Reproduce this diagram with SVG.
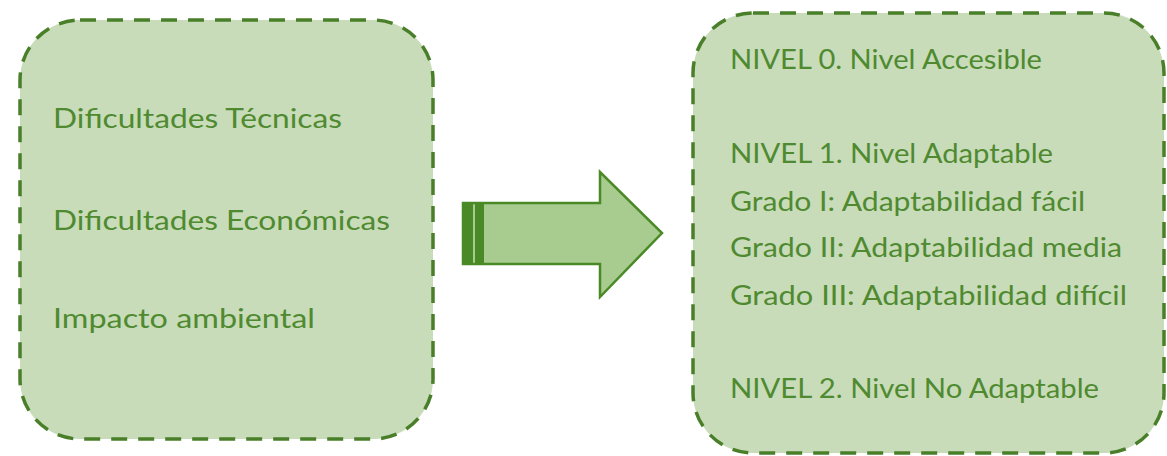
<svg xmlns="http://www.w3.org/2000/svg" width="1167" height="456" viewBox="0 0 1167 456">
<style>
.box{fill:#c8dcb9;stroke:#4a7f2a;stroke-width:3.5;stroke-dasharray:16 11}
.t{font-family:Lato,"Open Sans","Liberation Sans",sans-serif;font-size:27px;fill:#4f8a30}
</style>
<rect width="1167" height="456" fill="#ffffff"/>
<g id="left-box">
<rect class="box" x="20" y="20" width="413" height="419" rx="60" ry="60"/>
<text class="t" x="53" y="128" textLength="289" lengthAdjust="spacingAndGlyphs">Dificultades Técnicas</text>
<text class="t" x="53" y="230" textLength="337" lengthAdjust="spacingAndGlyphs">Dificultades Económicas</text>
<text class="t" x="53" y="328" textLength="262" lengthAdjust="spacingAndGlyphs">Impacto ambiental</text>
</g>
<g id="connectors">
<path d="M463,203 L600,203 L600,172 L662,233 L600,297 L600,264 L463,264 Z" fill="#a8cb8f" stroke="#4a8a26" stroke-width="2.5" stroke-linejoin="miter"/>
<rect x="463" y="203" width="10" height="61" fill="#4a8a26"/>
<rect x="475" y="203" width="9" height="61" fill="#4a8a26"/>
</g>
<g id="right-box">
<rect class="box" x="693" y="13" width="471" height="440" rx="60" ry="60"/>
<text class="t" x="730" y="69" textLength="312" lengthAdjust="spacingAndGlyphs">NIVEL 0. Nivel Accesible</text>
<text class="t" x="730" y="163" textLength="323" lengthAdjust="spacingAndGlyphs">NIVEL 1. Nivel Adaptable</text>
<text class="t" x="730" y="211" textLength="355" lengthAdjust="spacingAndGlyphs">Grado I: Adaptabilidad fácil</text>
<text class="t" x="730" y="257" textLength="392" lengthAdjust="spacingAndGlyphs">Grado II: Adaptabilidad media</text>
<text class="t" x="730" y="305" textLength="397" lengthAdjust="spacingAndGlyphs">Grado III: Adaptabilidad difícil</text>
<text class="t" x="730" y="398" textLength="369" lengthAdjust="spacingAndGlyphs">NIVEL 2. Nivel No Adaptable</text>
</g>
</svg>
